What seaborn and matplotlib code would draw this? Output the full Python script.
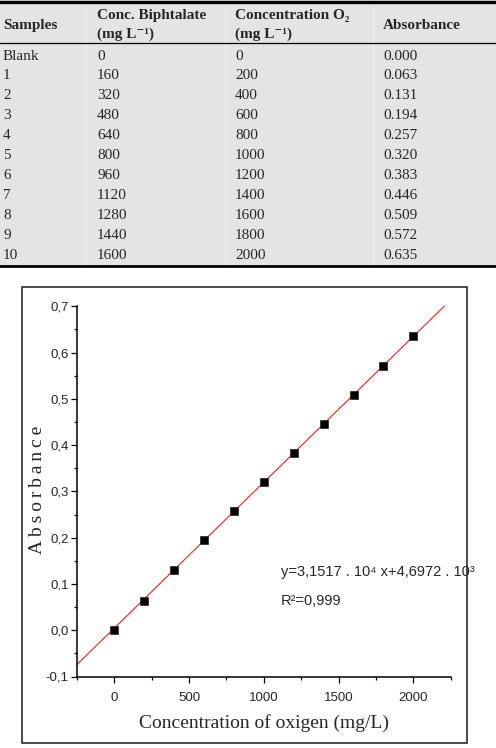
import matplotlib
matplotlib.use("Agg")
import matplotlib.pyplot as plt
import numpy as np
import pandas as pd
import seaborn as sns
from matplotlib.patches import Rectangle
from matplotlib.ticker import FuncFormatter, MultipleLocator
from matplotlib import font_manager

samples = ["Blank", "1", "2", "3", "4", "5", "6", "7", "8", "9", "10"]
biphtalate = [0, 160, 320, 480, 640, 800, 960, 1120, 1280, 1440, 1600]
oxygen = [0, 200, 400, 600, 800, 1000, 1200, 1400, 1600, 1800, 2000]
absorbance = [0.000, 0.063, 0.131, 0.194, 0.257, 0.320, 0.383, 0.446, 0.509, 0.572, 0.635]

headers = ["Samples", "Conc. Biphtalate\n(mg L⁻¹)", "Concentration O₂\n(mg L⁻¹)", "Absorbance"]

slope = 3.1517e-4
intercept = 4.6972e-3
fit_x = [-250, 2250]
equation = "y=3,1517 . 10⁴ x+4,6972 . 10³"
r2_text = "R²=0,999"

sns.set_style("ticks")
plt.rcParams["font.family"] = ["Liberation Sans", "DejaVu Sans"]

installed = {f.name for f in font_manager.fontManager.ttflist}
narrow = "Liberation Sans Narrow" in installed
sans = ["Liberation Sans Narrow", "DejaVu Sans"] if narrow else ["Liberation Sans", "DejaVu Sans"]

W, H = 496, 748
fig = plt.figure(figsize=(W / 100, H / 100), dpi=100)

# ---- table drawn in pixel coordinates ----
bg = fig.add_axes([0, 0, 1, 1])
bg.set_xlim(0, W)
bg.set_ylim(H, 0)
bg.axis("off")

serif = ["Liberation Serif", "DejaVu Serif"]
bg.add_patch(Rectangle((0, 0), W, 266, facecolor="#e4e4e4", edgecolor="none"))
for xs in [86, 225, 373]:
    bg.plot([xs, xs], [3, 265], color="#f0f0f0", lw=0.8)
bg.plot([0, W], [1.5, 1.5], color="black", lw=2.4)
bg.plot([0, W], [42.5, 42.5], color="black", lw=0.9)
bg.plot([0, W], [266, 266], color="black", lw=2.0)

col_x = [3, 97, 235, 383]
for cx, head in zip(col_x, headers):
    bg.text(cx, 25, head, family=serif, fontsize=11, fontweight="bold",
            va="center", ha="left", linespacing=1.5)

table = pd.DataFrame({"s": samples, "b": biphtalate, "o": oxygen, "a": absorbance})
for i, row in table.iterrows():
    y = 56 + i * 19.9
    cells = [row["s"], str(row["b"]), str(row["o"]), f"{row['a']:.3f}"]
    for cx, txt in zip(col_x, cells):
        bg.text(cx, y, txt, family=serif, fontsize=11, va="center", ha="left")

# outer frame of the figure panel
bg.add_patch(Rectangle((21.7, 287.3), 445, 455.2, facecolor="none",
                       edgecolor="#1a1a1a", lw=1.1))

# ---- calibration chart ----
ax = fig.add_axes([77 / W, 1 - 676.5 / H, (450.7 - 77) / W, (676.5 - 306.3) / H])
ax.patch.set_alpha(0)

line_df = pd.DataFrame({"x": fit_x, "y": [slope * v + intercept for v in fit_x]})
sns.lineplot(data=line_df, x="x", y="y", color="#e8201e", lw=0.8, ax=ax, zorder=2)
points = pd.DataFrame({"x": oxygen, "y": absorbance})
sns.scatterplot(data=points, x="x", y="y", marker="s", s=26, color="black",
                edgecolor="#222222", linewidth=0.5, ax=ax, zorder=3)

ax.set_xlim(-250, 2250)
ax.set_ylim(-0.1, 0.7)
ax.xaxis.set_major_locator(MultipleLocator(500))
ax.xaxis.set_minor_locator(MultipleLocator(250))
ax.yaxis.set_major_locator(MultipleLocator(0.1))
ax.yaxis.set_minor_locator(MultipleLocator(0.05))
ax.yaxis.set_major_formatter(FuncFormatter(lambda v, p: f"{v:.1f}".replace(".", ",").replace("-0,0", "0,0")))
ax.xaxis.set_major_formatter(FuncFormatter(lambda v, p: f"{v:.0f}"))

for side in ["top", "right"]:
    ax.spines[side].set_visible(False)
for side in ["left", "bottom"]:
    ax.spines[side].set_linewidth(1.1)
    ax.spines[side].set_color("black")

tick_size = 10 if narrow else 9.5
ax.tick_params(which="major", direction="out", length=4, width=0.9, labelsize=tick_size,
               color="black", pad=2)
ax.tick_params(which="minor", direction="out", length=2.5, width=0.9, color="black")
ax.tick_params(axis="x", pad=7)
for lab in ax.get_xticklabels() + ax.get_yticklabels():
    lab.set_family(sans)

ax.set_xlabel("Concentration of oxigen (mg/L)", family=serif, fontsize=14)
ax.set_ylabel("A\u2009b\u2009s\u2009o\u2009r\u2009b\u2009a\u2009n\u2009c\u2009e", family=serif, fontsize=14)
ax.xaxis.set_label_coords(264 / W, 1 - 723 / H, transform=fig.transFigure)
ax.yaxis.set_label_coords(37 / W, 1 - 490 / H, transform=fig.transFigure)
ax.xaxis.label.set_va("center")
ax.yaxis.label.set_va("center")

eq_size = 12 if narrow else 10.5
ax.text(281 / W, 1 - 572 / H, equation, transform=fig.transFigure, family=sans,
        fontsize=eq_size, va="center", ha="left")
ax.text(281 / W, 1 - 601 / H, r2_text, transform=fig.transFigure, family=sans,
        fontsize=eq_size, va="center", ha="left")

fig.savefig("out.png", dpi=100)
